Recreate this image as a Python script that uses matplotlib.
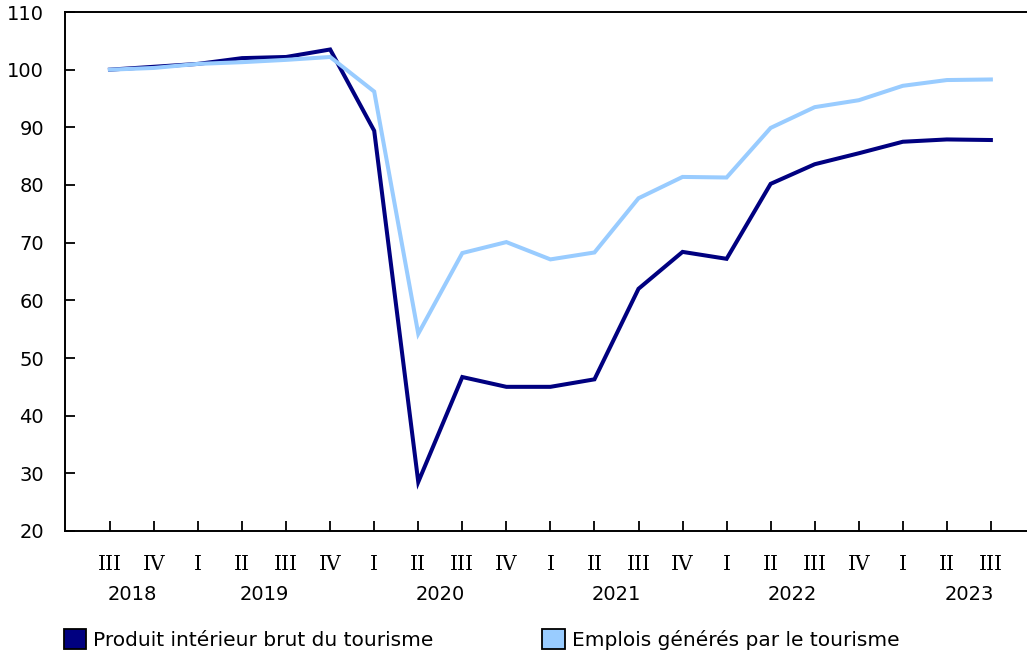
import numpy as np
import matplotlib.pyplot as plt
from matplotlib.patches import Patch
from matplotlib.transforms import blended_transform_factory

# Data (index, same quarter = 100)
quarters = ["III", "IV", "I", "II", "III", "IV", "I", "II", "III", "IV", "I",
            "II", "III", "IV", "I", "II", "III", "IV", "I", "II", "III"]
years    = ["2018", "2019", "2020", "2021", "2022", "2023"]
yearPos  = [0.5, 3.5, 7.5, 11.5, 15.5, 19.5]

gdpTourism  = [100.0, 100.5, 101.0, 102.0, 102.2, 103.5, 89.4, 28.5, 46.7, 45.0, 45.0,
               46.3, 62.0, 68.4, 67.2, 80.2, 83.6, 85.5, 87.5, 87.9, 87.8]
jobsTourism = [100.0, 100.3, 101.0, 101.3, 101.7, 102.2, 96.2, 54.2, 68.2, 70.1, 67.1,
               68.3, 77.7, 81.4, 81.3, 89.9, 93.5, 94.7, 97.2, 98.2, 98.3]

labelGdp  = "Produit intérieur brut du tourisme"
labelJobs = "Emplois générés par le tourisme"

colGdp  = "#000080"
colJobs = "#99ccff"

#------------------------------------------------------------------------------#

plt.rcParams['font.family'] = ['DejaVu Sans']

fig = plt.figure(figsize=(10.27, 6.56), dpi=100)
ax  = fig.add_axes([65/1027, 1 - 531/656, 962/1027, 519/656])

x = np.arange(len(quarters))
ax.plot(x, gdpTourism, color=colGdp, lw=2.9, solid_joinstyle="miter")
ax.plot(x, jobsTourism, color=colJobs, lw=2.9, solid_joinstyle="miter")

ax.set_xlim(-1.02, 20.82)
ax.set_ylim(20, 110)
ax.set_yticks(np.arange(20, 111, 10))

ax.spines["right"].set_visible(False)
for sp in ["left", "top", "bottom"]:
    ax.spines[sp].set_linewidth(1.4)

ax.tick_params(axis="y", direction="in", length=7, width=1.3, labelsize=14, pad=15)
ax.tick_params(axis="x", direction="in", length=7, width=1.3, labelsize=0)
ax.set_xticks(x)
ax.set_xticklabels([])

# Two-level x labels
trans = blended_transform_factory(ax.transData, ax.transAxes)
for i, q in enumerate(quarters):
    ax.text(i, -34/519, q, transform=trans, ha="center", va="center",
            fontsize=14.5, family="DejaVu Serif")
for pos, yr in zip(yearPos, years):
    ax.text(pos, -63/519, yr, transform=trans, ha="center", va="center", fontsize=14)

handles = [Patch(facecolor=colGdp, edgecolor="black", lw=1.3, label=labelGdp),
           Patch(facecolor=colJobs, edgecolor="black", lw=1.3, label=labelJobs)]
fig.legend(handles=handles, loc="lower left", bbox_to_anchor=(46/1027, -0.018),
           ncol=2, frameon=False, fontsize=14.5, handlelength=1.1, handleheight=1.1,
           handletextpad=0.35, columnspacing=5.4)

fig.savefig("out.png", dpi=100)
